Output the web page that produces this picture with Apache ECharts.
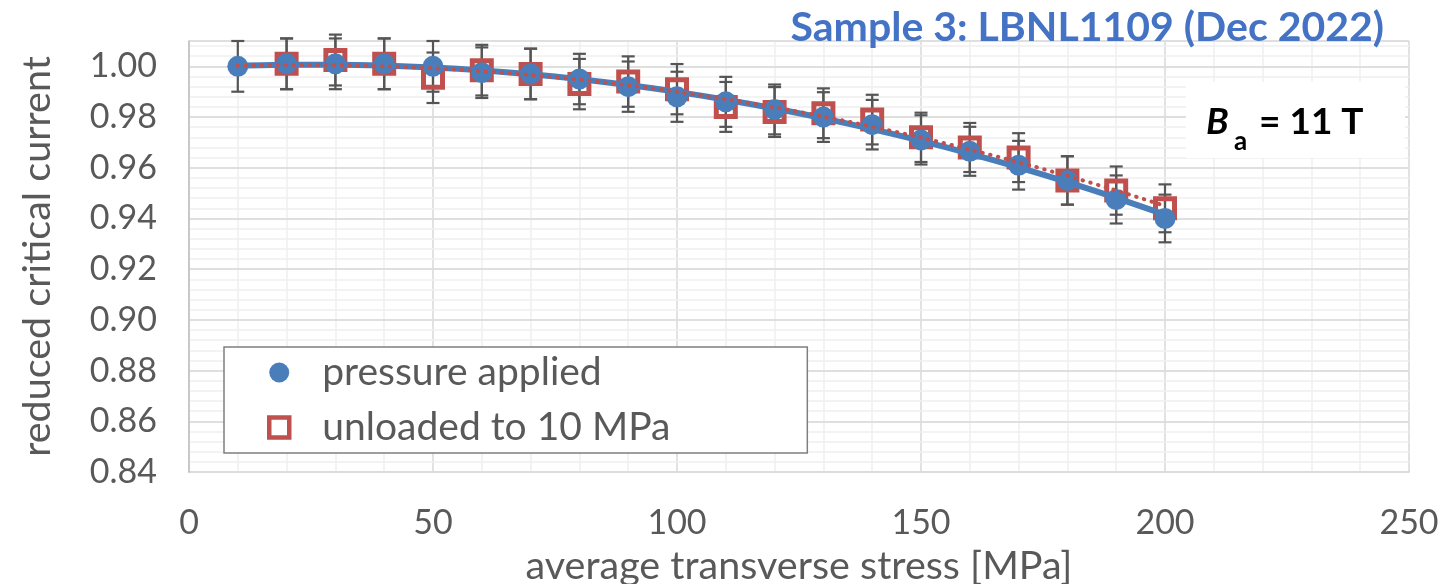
<!DOCTYPE html>
<html><head><meta charset="utf-8">
<script src="https://cdn.jsdelivr.net/npm/echarts@6/dist/echarts.min.js"></script>
<style>html,body{margin:0;padding:0;background:#fff}#c{width:1447px;height:584px}</style>
</head><body><div id="c"></div>
<script>
// ---- data ----
const stress = [10,20,30,40,50,60,70,80,90,100,110,120,130,140,150,160,170,180,190,200];
const pressureApplied = [1.000,1.001,1.001,1.001,1.000,0.9975,0.997,0.995,0.992,0.988,0.986,0.983,0.980,0.977,0.971,0.9665,0.961,0.955,0.9475,0.940];
// first value is the shared 10 MPa reference point (marker hidden behind the blue one)
const unloaded = [1.000,1.001,1.0025,1.001,0.9955,0.9985,0.997,0.993,0.994,0.991,0.984,0.982,0.9815,0.979,0.972,0.968,0.964,0.955,0.951,0.944];
const errorPercent = 1; // error bars: +/- 1 % of value
const xTicks = [0,50,100,150,200,250];
const yTicks = [0.84,0.86,0.88,0.90,0.92,0.94,0.96,0.98,1.00];
const seriesNames = ['pressure applied','unloaded to 10 MPa'];
const titleText = 'Sample 3: LBNL1109 (Dec 2022)';

// ---- least-squares polynomial (order 2) trendline, as in the spreadsheet ----
function polyfit2(xs, ys){
  let n=xs.length,s1=0,s2=0,s3=0,s4=0,t0=0,t1=0,t2=0;
  for(let i=0;i<n;i++){const x=xs[i],y=ys[i];s1+=x;s2+=x*x;s3+=x*x*x;s4+=x*x*x*x;t0+=y;t1+=x*y;t2+=x*x*y;}
  const A=[[n,s1,s2,t0],[s1,s2,s3,t1],[s2,s3,s4,t2]];
  for(let i=0;i<3;i++){for(let k=i+1;k<3;k++){const f=A[k][i]/A[i][i];for(let j=i;j<4;j++)A[k][j]-=f*A[i][j];}}
  const c=[0,0,0];
  for(let i=2;i>=0;i--){let s=A[i][3];for(let j=i+1;j<3;j++)s-=A[i][j]*c[j];c[i]=s/A[i][i];}
  return x=>c[0]+c[1]*x+c[2]*x*x;
}
const fBlue = polyfit2(stress, pressureApplied);
const fRed = polyfit2(stress, unloaded);

const blueC = '#4A7EBB', redC = '#C0504D', txtC = '#595959';
const FONT = 'Lato';

const bluePts = stress.map((x,i)=>[x,pressureApplied[i]]);
const redPts = stress.map((x,i)=>[x,unloaded[i]]).slice(1);
const errData = pts => pts.map(p=>[p[0],p[1],p[1]*errorPercent/100]);

function errRender(params, api){
  const x=api.value(0), y=api.value(1), e=api.value(2);
  const top=api.coord([x,y+e]), bot=api.coord([x,y-e]);
  const w=6.5;
  const st={stroke:'#555555',lineWidth:2.2};
  return {type:'group',children:[
    {type:'line',shape:{x1:top[0],y1:top[1],x2:bot[0],y2:bot[1]},style:st},
    {type:'line',shape:{x1:top[0]-w,y1:top[1],x2:top[0]+w,y2:top[1]},style:st},
    {type:'line',shape:{x1:bot[0]-w,y1:bot[1],x2:bot[0]+w,y2:bot[1]},style:st}
  ]};
}

const chart = echarts.init(document.getElementById('c'), null, {renderer:'canvas'});
chart.setOption({
  backgroundColor:'#fff',
  animation:false,
  textStyle:{fontFamily:FONT},
  title:{text:titleText,right:58,top:2,textStyle:{fontFamily:FONT,fontSize:41,fontWeight:'bold',color:'#4472C4'}},
  grid:{left:189,right:38,top:41,bottom:112,containLabel:false,outerBoundsMode:'none'},
  legend:{
    orient:'vertical',left:224,top:347,
    data:[
      {name:seriesNames[0],icon:'circle',itemStyle:{color:blueC,borderWidth:0}},
      {name:seriesNames[1],icon:'rect',itemStyle:{color:'#ffffff',borderColor:redC,borderWidth:4.5}}
    ],
    backgroundColor:'#fff',borderColor:'#7F7F7F',borderWidth:1.5,
    padding:[6,137,6,43],itemGap:16,itemWidth:20,itemHeight:20,
    textStyle:{fontFamily:FONT,fontSize:39,color:txtC,padding:[0,0,0,28]},
    z:10
  },
  xAxis:{
    type:'value',min:0,max:250,interval:50,
    axisLine:{show:true,onZero:false,lineStyle:{color:'#BFBFBF',width:1.5}},
    axisTick:{show:false},
    axisLabel:{fontFamily:FONT,fontSize:34,color:txtC,margin:34},
    splitLine:{show:true,lineStyle:{color:'#D9D9D9',width:1.5}},
    minorSplitLine:{show:true,lineStyle:{color:'#EFEFEF',width:1.5}},
    minorTick:{show:false,splitNumber:5},
    name:'average transverse stress [MPa]',nameLocation:'middle',nameGap:74,
    nameTextStyle:{fontFamily:FONT,fontSize:39.5,color:txtC}
  },
  yAxis:[{
    type:'value',min:0.84,max:1.01,interval:0.02,
    axisLine:{show:true,onZero:false,lineStyle:{color:'#BFBFBF',width:1.5}},
    axisTick:{show:false},
    axisLabel:{fontFamily:FONT,fontSize:34,color:txtC,margin:32,showMaxLabel:false,formatter:v=>v.toFixed(2)},
    splitLine:{show:true,lineStyle:{color:'#D9D9D9',width:1.5}},
    name:'reduced critical current',nameLocation:'middle',nameGap:132,
    nameTextStyle:{fontFamily:FONT,fontSize:39.5,color:txtC},
    z:2
  },{
    type:'value',min:0.84,max:1.01,interval:0.004,position:'left',
    axisLine:{show:false},axisTick:{show:false},axisLabel:{show:false},
    splitLine:{show:true,lineStyle:{color:'#EFEFEF',width:1.5}},
    z:1
  }],
  graphic:{elements:[
    {type:'rect',z:100,zlevel:0,shape:{x:1186,y:82,width:219,height:76},style:{fill:'#ffffff',stroke:null}},
    {type:'text',z:101,x:1206,y:104,style:{text:'B',fontFamily:FONT,fontSize:37,fontWeight:'bold',fontStyle:'italic',fill:'#000'}},
    {type:'text',z:101,x:1234,y:129,style:{text:'a',fontFamily:FONT,fontSize:26,fontWeight:'bold',fill:'#000'}},
    {type:'text',z:101,x:1259,y:104,style:{text:'= 11 T',fontFamily:FONT,fontSize:37,fontWeight:'bold',fill:'#000'}}
  ]},
  series:[
    {type:'custom',name:'errRed',renderItem:errRender,data:errData(redPts),z:3,silent:true},
    {type:'custom',name:'errBlue',renderItem:errRender,data:errData(bluePts),z:3,silent:true},
    {type:'scatter',name:seriesNames[1],data:redPts,symbol:'rect',symbolSize:19,
      itemStyle:{color:'rgba(255,255,255,0)',borderColor:redC,borderWidth:5,opacity:1},z:4},
    {type:'scatter',name:seriesNames[0],data:bluePts,symbol:'circle',symbolSize:21,
      itemStyle:{color:blueC,opacity:1},z:5},
    {type:'line',name:'trendBlue',data:stress.map(x=>[x,fBlue(x)]),smooth:0.3,showSymbol:false,symbol:'none',
      lineStyle:{color:blueC,width:6},z:6,silent:true},
    {type:'line',name:'trendRed',data:stress.map(x=>[x,fRed(x)]),smooth:0.3,showSymbol:false,symbol:'none',
      lineStyle:{color:redC,width:4,type:[0.5,7.5],cap:'round'},z:7,silent:true}
  ]
});
</script>
</body></html>
